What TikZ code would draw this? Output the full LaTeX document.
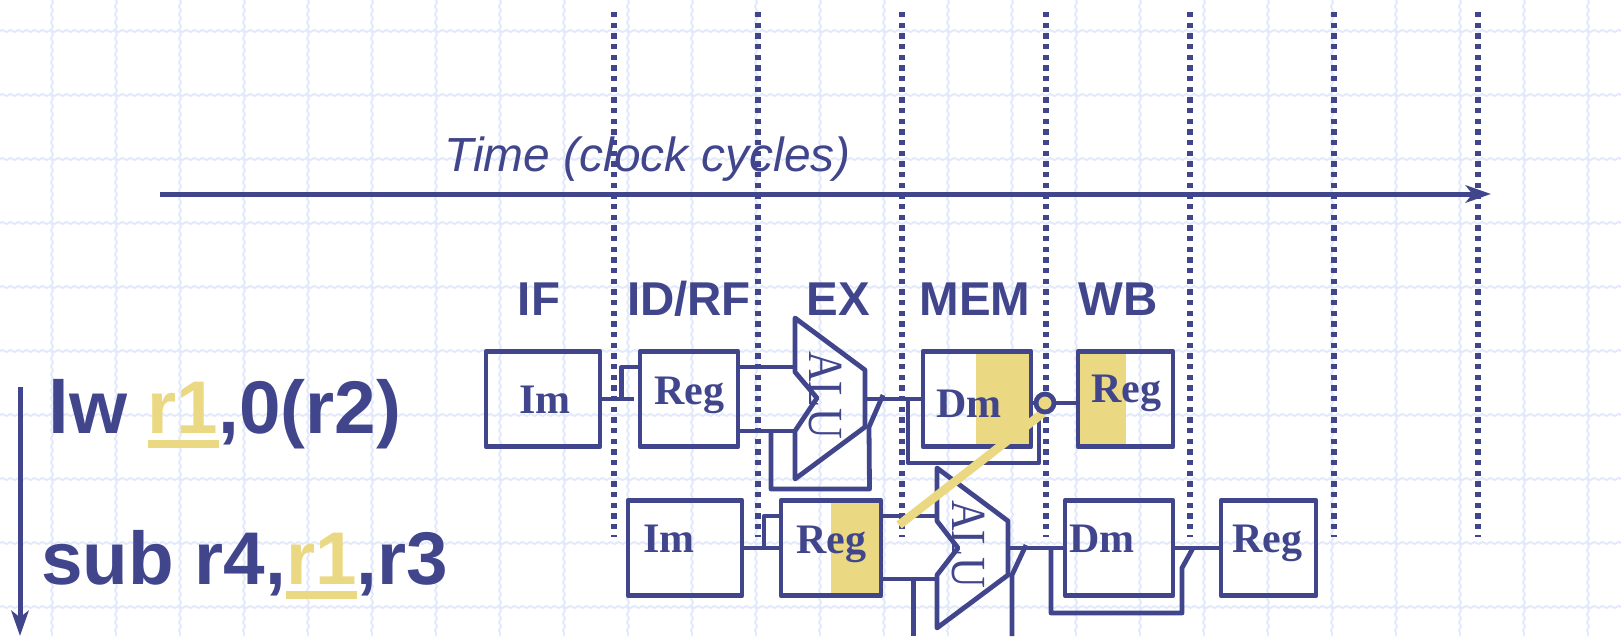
\documentclass[tikz,border=0pt]{standalone}
\usepackage{fontspec}
\setmainfont{Liberation Sans}
\newfontfamily\serifbox{Liberation Serif}
\definecolor{slideblue}{RGB}{65, 70, 140}
\definecolor{slideyellow}{RGB}{235, 216, 130}
\definecolor{gridblue}{RGB}{226, 233, 252}
\usetikzlibrary{arrows.meta, decorations.pathmorphing}
\tikzset{
  % Wavy paper grid.
  gridline/.style={
    draw=gridblue, line width=1.4pt,
    decorate, decoration={snake, segment length=6pt, amplitude=0.8pt},
  },
  % Dotted clock boundary.
  clockline/.style={
    draw=slideblue, line width=4.2pt,
    dash pattern=on 4pt off 4pt,
  },
  % Pipeline blocks and wires.
  wire/.style={draw=slideblue, line width=3.6pt, line join=round},
  block/.style={
    rectangle, draw=slideblue, line width=3.6pt, line join=round,
    inner sep=0pt, minimum width=#1*0.75pt, minimum height=71.5pt,
  },
  axis/.style={
    draw=slideblue, line width=3.75pt,
    -{Stealth[length=19pt, width=13pt, inset=5pt]},
  },
  forward/.style={draw=slideyellow, line width=6.5pt},
  hazard/.style={fill=slideyellow},
  % Text styles.
  stage-label/.style={
    inner sep=0pt, anchor=base, text=slideblue,
    font=\fontsize{35.6}{40}\selectfont\bfseries,
  },
  block-label/.style={
    inner sep=0pt, anchor=base west, text=slideblue,
    font=\serifbox\fontsize{31.5}{36}\selectfont\bfseries,
  },
  alu-label/.style={
    inner sep=0pt, anchor=base, rotate=-90, text=slideblue,
    font=\serifbox\fontsize{32}{36}\selectfont,
  },
  instr-label/.style={
    inner sep=0pt, anchor=base west, text=slideblue,
    font=\fontsize{56}{60}\selectfont\bfseries,
  },
}
% Register name picked out in yellow, with a bar under it.
\newcommand{\regmark}[1]{\textcolor{slideyellow}{\rlap{\rule[-11.25pt]{53pt}{6pt}}#1}}

\begin{document}
\begin{tikzpicture}[x=0.75pt, y=-0.75pt]
  \useasboundingbox (0,0) rectangle (1621,636);
  \fill[white] (0,0) rectangle (1621,636);

  % Paper grid.
  \foreach \gx in {52,116,...,1620}
    \draw[gridline] (\gx,0) -- (\gx,636);
  \foreach \gy in {31,95,...,636}
    \draw[gridline] (0,\gy) -- (1621,\gy);

  % Clock boundaries.
  \foreach \cx in {614,758,902,1046,1190,1334,1478}
    \draw[clockline] (\cx,12) -- (\cx,537);

  % Time axis and instruction axis.
  \coordinate (timestart) at (160,194);
  \coordinate (timeend) at (1491,194);
  \coordinate (orderstart) at (20,387);
  \coordinate (orderend) at (20,636);
  \draw[axis] (timestart) -- (timeend);
  \draw[axis] (orderstart) -- (orderend);
  \node[inner sep=0pt, anchor=base west, text=slideblue, font=\fontsize{35.9}{40}\selectfont\itshape]
    (timelabel) at (444,171) {Time (clock cycles)};

  % Stage names.
  \node[stage-label] (stageif) at (539,315) {IF};
  \node[stage-label] (stageid) at (689,315) {ID/RF};
  \node[stage-label] (stageex) at (838,315) {EX};
  \node[stage-label] (stagemem) at (975,315) {MEM};
  \node[stage-label] (stagewb) at (1118,315) {WB};

  % Instructions.
  \node[instr-label] (lwtext) at (48,433) {lw \regmark{r1},0(r2)};
  \node[instr-label] (subtext) at (41,584) {sub r4,\regmark{r1},r3};

  % Written and read halves.
  \fill[hazard] (976,351) rectangle (1029,446);
  \fill[hazard] (1078,351) rectangle (1126,446);
  \fill[hazard] (831,499) rectangle (879,596);

  % First instruction.
  \node[block=114] (imA) at (543,399) {};
  \node[block=98] (regA) at (689,399) {};
  \node[block=108] (dmA) at (977,399) {};
  \node[block=95] (wbA) at (1125.5,399) {};
  \node[block-label] (imAtext) at (519,413) {Im};
  \node[block-label] (regAtext) at (654,404) {Reg};
  \node[block-label] (dmAtext) at (936,417) {Dm};
  \node[block-label] (wbAtext) at (1091,402) {Reg};

  \coordinate (aluAinA) at (795,367);
  \coordinate (aluAinB) at (795,431);
  \coordinate (aluAout) at (865,399);
  \coordinate (aluAmux) at (869,427);
  \draw[wire] (795,318) -- (865,370) -- (865,427) -- (795,479) -- (795,431)
    -- (817,398) -- (795,372) -- cycle;
  \node[alu-label] (aluAtext) at (809,395) {\scalebox{1}[1.15]{ALU}};

  \draw[wire] (imA.east) -- ([xshift=-3pt]regA.west);
  \draw[wire] (621.5,399) -- (621.5,367) -- (regA.west |- aluAinA);
  \draw[wire] (regA.east |- aluAinA) -- (aluAinA);
  \draw[wire] (regA.east |- aluAinB) -- (aluAinB);
  \draw[wire] (771,431) -- (771,489) -- (869.5,489) -- (aluAmux) -- (883,395);
  \draw[wire] (aluAout) -- (dmA.west);
  \draw[wire] (908,399) -- (908,463) -- (1039,463) -- (1039,408);

  % Second instruction.
  \node[block=114] (imB) at (685,548) {};
  \node[block=100] (regB) at (831,548) {};
  \node[block=108] (dmB) at (1119,548) {};
  \node[block=95] (wbB) at (1268.5,548) {};
  \node[block-label] (imBtext) at (643,552) {Im};
  \node[block-label] (regBtext) at (796,553) {Reg};
  \node[block-label] (dmBtext) at (1069,552) {Dm};
  \node[block-label] (wbBtext) at (1232,552) {Reg};

  \coordinate (aluBinA) at (937,516);
  \coordinate (aluBinB) at (937,579);
  \coordinate (aluBout) at (1008,548);
  \coordinate (aluBmux) at (1012,575);
  \draw[wire] (937,468) -- (1008,521) -- (1008,575) -- (937,628) -- (937,575)
    -- (958,548) -- (937,521) -- cycle;
  \node[alu-label] (aluBtext) at (952,544) {\scalebox{1}[1.15]{ALU}};

  \draw[wire] (imB.east) -- (regB.west);
  \draw[wire] (764,548) -- (764,516) -- (regB.west |- aluBinA);
  \draw[wire] (regB.east |- aluBinA) -- (aluBinA);
  \draw[wire] (regB.east |- aluBinB) -- (aluBinB);
  \draw[wire] (913.5,579) -- (913.5,636);
  \draw[wire] (1012,636) -- (aluBmux) -- (1026,545);
  \draw[wire] (aluBout) -- (dmB.west);
  \draw[wire] (1051,548) -- (1051,613) -- (1182,613) -- (1182,568) -- (1193,548);
  \draw[wire] ([xshift=-2pt]dmB.east) -- (wbB.west);

  % Forwarding path.
  \coordinate (bypass) at (1045,403);
  \coordinate (bypassfoot) at (899,525);
  \draw[forward] (1043,413) -- (bypassfoot);
  \draw[wire] ([xshift=-2pt]dmA.east |- bypass) -- (wbA.west |- bypass);
  \draw[wire, fill=slideyellow] (bypass) circle[radius=9];
\end{tikzpicture}
\end{document}
